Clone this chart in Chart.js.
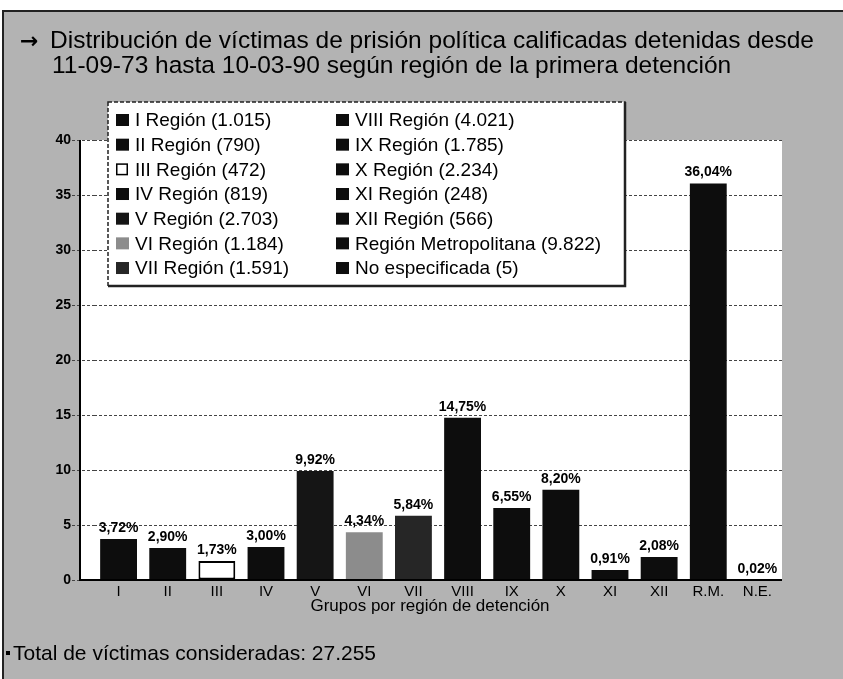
<!DOCTYPE html>
<html>
<head>
<meta charset="utf-8">
<script src="https://cdn.jsdelivr.net/npm/chart.js@4"></script>
<style>
  html, body { margin: 0; padding: 0; background: #fff; }
  canvas { display: block; }
</style>
</head>
<body>
<canvas id="chart" width="843" height="679"></canvas>
<script>
const categories = ['I', 'II', 'III', 'IV', 'V', 'VI', 'VII', 'VIII', 'IX', 'X', 'XI', 'XII', 'R.M.', 'N.E.']
const percentages = [3.72, 2.90, 1.73, 3.00, 9.92, 4.34, 5.84, 14.75, 6.55, 8.20, 0.91, 2.08, 36.04, 0.02]
const regionNames = ['I Región', 'II Región', 'III Región', 'IV Región', 'V Región', 'VI Región', 'VII Región',
  'VIII Región', 'IX Región', 'X Región', 'XI Región', 'XII Región', 'Región Metropolitana', 'No especificada']
const victimCounts = [1015, 790, 472, 819, 2703, 1184, 1591, 4021, 1785, 2234, 248, 566, 9822, 5]
const totalVictims = 27255
const yMin = 0
const yMax = 40
const yStep = 5

const barColors = ['#0d0d0d', '#0d0d0d', '#ffffff', '#0d0d0d', '#151515', '#8c8c8c', '#262626',
  '#0d0d0d', '#0d0d0d', '#0d0d0d', '#0d0d0d', '#0d0d0d', '#0d0d0d', '#0d0d0d']
const barBorders = categories.map((c, i) => i === 2 ? 2 : 0)

const FONT = "'Liberation Sans', Arial, sans-serif"
const fmtCount = (n) => String(n).replace(/\B(?=(\d{3})+(?!\d))/g, '.')
const fmtPct = (v) => v.toFixed(2).replace('.', ',') + '%'

const titleLines = [
  'Distribución de víctimas de prisión política calificadas detenidas desde',
  '11-09-73 hasta 10-03-90 según región de la primera detención'
]

const framePlugin = {
  id: 'frame',
  beforeDraw(chart) {
    const { ctx, chartArea } = chart
    ctx.save()
    ctx.fillStyle = '#fff'
    ctx.fillRect(0, 0, chart.width, chart.height)
    ctx.fillStyle = '#b3b3b3'
    ctx.fillRect(3, 11, chart.width - 3, chart.height - 11)
    ctx.strokeStyle = '#222'
    ctx.lineWidth = 2
    ctx.beginPath()
    ctx.moveTo(3, chart.height)
    ctx.lineTo(3, 11)
    ctx.lineTo(chart.width, 11)
    ctx.stroke()
    // white plot box, a bit wider than the chart area on the left
    ctx.fillStyle = '#fff'
    ctx.fillRect(80, chartArea.top, chartArea.right - 80, chartArea.bottom - chartArea.top)
    ctx.restore()
  },
  afterDraw(chart) {
    const { ctx, chartArea } = chart
    ctx.save()
    // axis lines
    ctx.strokeStyle = '#000'
    ctx.lineWidth = 2
    ctx.beginPath()
    ctx.moveTo(80, chartArea.top)
    ctx.lineTo(80, chartArea.bottom)
    ctx.lineTo(chartArea.right, chartArea.bottom)
    ctx.stroke()

    // x axis title
    ctx.fillStyle = '#000'
    ctx.font = '17px ' + FONT
    ctx.textAlign = 'center'
    ctx.textBaseline = 'middle'
    ctx.fillText('Grupos por región de detención', 430, 606)

    // title
    ctx.textAlign = 'left'
    ctx.textBaseline = 'alphabetic'
    ctx.font = "bold 22px 'DejaVu Sans', sans-serif"
    ctx.fillText('→', 20, 48)
    ctx.font = '24.5px ' + FONT
    ctx.fillText(titleLines[0], 50, 48)
    ctx.fillText(titleLines[1], 52, 73)

    // footer
    ctx.fillRect(6, 651, 4, 4)
    ctx.font = '21px ' + FONT
    ctx.fillText('Total de víctimas consideradas: ' + fmtCount(totalVictims), 13, 660)

    // legend box
    const bx = 108, by = 102, bw = 517, bh = 184
    ctx.fillStyle = '#fff'
    ctx.fillRect(bx, by, bw, bh)
    ctx.strokeStyle = '#222'
    ctx.lineWidth = 1.5
    ctx.setLineDash([4, 2])
    ctx.strokeRect(bx, by, bw, bh)
    ctx.setLineDash([])
    ctx.lineWidth = 2.5
    ctx.beginPath()
    ctx.moveTo(bx, by + bh)
    ctx.lineTo(bx + bw, by + bh)
    ctx.lineTo(bx + bw, by)
    ctx.stroke()

    ctx.font = '19px ' + FONT
    ctx.textBaseline = 'middle'
    regionNames.forEach((name, i) => {
      const col = Math.floor(i / 7)
      const row = i % 7
      const sx = col === 0 ? 116 : 336
      const cy = 120 + row * 24.67
      if (barBorders[i] > 0) {
        ctx.fillStyle = '#fff'
        ctx.fillRect(sx, cy - 6, 12, 12)
        ctx.strokeStyle = '#000'
        ctx.lineWidth = 1.5
        ctx.strokeRect(sx + 0.75, cy - 5.25, 10.5, 10.5)
      } else {
        ctx.fillStyle = barColors[i]
        ctx.fillRect(sx, cy - 6, 13, 12)
      }
      ctx.fillStyle = '#000'
      ctx.fillText(name + ' (' + fmtCount(victimCounts[i]) + ')', sx + 19, cy + 1)
    })
    ctx.restore()
  },
  afterDatasetsDraw(chart) {
    const { ctx } = chart
    const meta = chart.getDatasetMeta(0)
    ctx.save()
    ctx.fillStyle = '#000'
    ctx.font = 'bold 14px ' + FONT
    ctx.textAlign = 'center'
    ctx.textBaseline = 'bottom'
    meta.data.forEach((bar, i) => {
      ctx.fillText(fmtPct(percentages[i]), bar.x, bar.y - 4)
    })
    ctx.restore()
  }
}

new Chart(document.getElementById('chart'), {
  type: 'bar',
  data: {
    labels: categories,
    datasets: [{
      data: percentages,
      backgroundColor: barColors,
      borderColor: '#000',
      borderWidth: barBorders,
      borderSkipped: false,
      barPercentage: 0.75,
      categoryPercentage: 1
    }]
  },
  options: {
    responsive: false,
    animation: false,
    devicePixelRatio: 1,
    layout: { padding: { left: 0, right: 61, top: 140, bottom: 59 } },
    plugins: {
      legend: { display: false },
      tooltip: { enabled: false }
    },
    scales: {
      x: {
        offset: true,
        grid: { display: false, drawTicks: false },
        border: { display: false },
        ticks: { color: '#000', font: { family: FONT, size: 15 }, padding: 3, maxRotation: 0 },
        afterFit: (s) => { s.height = 40 }
      },
      y: {
        min: yMin,
        max: yMax,
        ticks: { stepSize: yStep, color: '#000', font: { family: FONT, size: 14, weight: 'bold' }, padding: 1 },
        grid: { color: '#444', lineWidth: 1, tickLength: 22, tickColor: '#444', tickBorderDash: [3, 2] },
        border: { display: false, dash: [3, 2] },
        afterFit: (s) => { s.width = 94 }
      }
    }
  },
  plugins: [framePlugin]
})
</script>
</body>
</html>
